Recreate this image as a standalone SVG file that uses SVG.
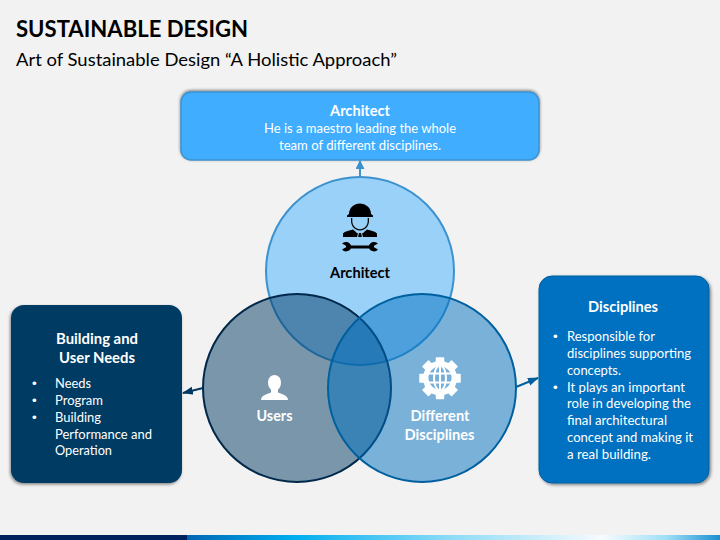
<svg xmlns="http://www.w3.org/2000/svg" width="720" height="540" viewBox="0 0 720 540">
<style>
text{font-family:"Lato","Open Sans","Liberation Sans",sans-serif}
.w{fill:#fff}.b{font-weight:700}.c{text-anchor:middle}
.t13{font-size:13.5px}.t14{font-size:14.5px}
.bu{font-family:"Liberation Sans",sans-serif}
</style>
<defs>
<linearGradient id="bar" x1="0" x2="1" y1="0" y2="0">
<stop offset="0" stop-color="#0066b3"/><stop offset=".2" stop-color="#00aeef"/><stop offset=".5" stop-color="#8fdcf7"/><stop offset=".78" stop-color="#f7fbfe"/><stop offset=".9" stop-color="#9fdff6"/><stop offset="1" stop-color="#1a8fd0"/>
</linearGradient>
<filter id="shT" x="-10%" y="-15%" width="120%" height="130%"><feDropShadow dx="0" dy="-1" stdDeviation="1.500" flood-color="#000" flood-opacity=".5"/></filter>
<filter id="shL" x="-10%" y="-10%" width="120%" height="120%"><feDropShadow dx="-1" dy="1.500" stdDeviation="1.500" flood-color="#000" flood-opacity=".45"/></filter>
<filter id="shR" x="-10%" y="-10%" width="120%" height="120%"><feDropShadow dx="1.500" dy="1.500" stdDeviation="1.500" flood-color="#000" flood-opacity=".45"/></filter>
<marker id="a1" markerWidth="10" markerHeight="10" refX="8" refY="4.500" orient="auto" markerUnits="userSpaceOnUse"><path d="M0 0L9 4.500L0 9Z" fill="#3c92ce"/></marker>
<marker id="a2" markerWidth="12" markerHeight="10" refX="10" refY="4" orient="auto" markerUnits="userSpaceOnUse"><path d="M0 0L11 4L0 8Z" fill="#003a63"/></marker>
<marker id="a3" markerWidth="12" markerHeight="10" refX="10" refY="4" orient="auto" markerUnits="userSpaceOnUse"><path d="M0 0L11 4L0 8Z" fill="#00609f"/></marker>
</defs>
<rect width="720" height="540" fill="#f2f2f2"/>
<rect x="0" y="535" width="187" height="5" fill="#002060"/>
<rect x="187" y="535" width="533" height="5" fill="url(#bar)"/>
<text x="16" y="37" font-size="23.500" font-weight="700" fill="#000" textLength="232" lengthAdjust="spacingAndGlyphs">SUSTAINABLE DESIGN</text>
<text x="16" y="66" font-size="18" fill="#000" textLength="381" lengthAdjust="spacingAndGlyphs">Art of Sustainable Design “A Holistic Approach”</text>

<g id="connectors" fill="none" stroke-width="2">
<path d="M360 177V161" stroke="#3c92ce" marker-end="url(#a1)"/>
<path d="M203 388L183 393" stroke="#003a63" marker-end="url(#a2)"/>
<path d="M516 387L538 378" stroke="#00609f" marker-end="url(#a3)"/>
</g>

<g id="box-architect">
<rect x="181" y="92" width="358" height="68" rx="10" fill="#41adff" stroke="#3c92ce" stroke-width="1.500" filter="url(#shT)"/>
<text class="w b c t14" x="360" y="116" textLength="60" lengthAdjust="spacingAndGlyphs">Architect</text>
<text class="w c t13" x="360" y="133" textLength="192" lengthAdjust="spacingAndGlyphs">He is a maestro leading the whole</text>
<text class="w c t13" x="360" y="150" textLength="162" lengthAdjust="spacingAndGlyphs">team of different disciplines.</text>
</g>

<g id="circle-architect">
<circle cx="360" cy="271" r="94" fill="#9ad1f9" stroke="#3c92ce" stroke-width="2"/>
</g>
<g id="circle-users">
<circle cx="297" cy="388" r="94" fill="#003a63" fill-opacity=".5" stroke="#00284a" stroke-width="2"/>
</g>
<g id="circle-disciplines">
<circle cx="422" cy="388" r="94" fill="#0070c0" fill-opacity=".5" stroke="#00609f" stroke-width="2"/>
</g>

<g id="label-architect">
<g fill="#000">
<path d="M349 214a11 10.500 0 0 1 22 0l2 1.500v1.500h-26v-1.500z"/>
<path d="M351 218v3c0 5 4 9.500 9 9.500s9-4.500 9-9.500v-3h-1.300v3c0 4.500-3.200 8.200-7.700 8.200s-7.700-3.700-7.700-8.200v-3z"/>
<path d="M343 237v-3c0-2 5-3 10-4.500l4 3.500 1 .5-1 3.500zM377 237v-3c0-2-5-3-10-4.500l-4 3.500-1 .5 1 3.500zM359 233h2l1 4h-4z"/>
<path d="M342 243.500a5.500 5.500 0 0 1 9 2h18a5.500 5.500 0 0 1 9-2l-4 2.200v1.600l4 2.200a5.500 5.500 0 0 1-9-1h-18a5.500 5.500 0 0 1-9 1l4-2.200v-1.600z"/>
</g>
<text class="b c t14" x="360" y="278" fill="#000" textLength="60" lengthAdjust="spacingAndGlyphs">Architect</text>
</g>

<g id="label-users">
<path fill="#fff" d="M261 400c0-5 7-6 10-7.500v-3c-2-1.500-3-4-3-7.500a6.500 7 0 0 1 13 0c0 3.500-1 6-3 7.500v3c3 1.500 10 2.500 10 7.500z"/>
<text class="w b c t14" x="274.500" y="421" textLength="36" lengthAdjust="spacingAndGlyphs">Users</text>
</g>

<g id="label-disciplines">
<path fill="#fff" stroke="#fff" stroke-width="1.500" stroke-linejoin="round" d="M436.500 358h7v4l5 2 3-3 5.500 5.500-3 3 2 5h4v7.500h-4l-2 5 3 3-5.500 5.500-3-3-5 2v4h-7v-4l-5-2-3 3-5.500-5.500 3-3-2-5h-4v-7.500h4l2-5-3-3 5.500-5.500 3 3 5-2z"/>
<circle cx="440" cy="378" r="12.500" fill="#78afd8"/>
<g fill="none" stroke="#fff" stroke-width="2">
<circle cx="440" cy="378" r="12.500"/><ellipse cx="440" cy="378" rx="6" ry="12.500"/>
<path d="M440 365.500v25M428.500 373.500h23M428.500 382.500h23"/>
</g>
<text class="w b c t14" x="440" y="421" textLength="59" lengthAdjust="spacingAndGlyphs">Different</text>
<text class="w b c t14" x="439.500" y="440" textLength="70" lengthAdjust="spacingAndGlyphs">Disciplines</text>
</g>

<g id="box-needs">
<rect x="11" y="305" width="171" height="178" rx="13" fill="#003a63" filter="url(#shL)"/>
<text class="w b c t14" x="97" y="344" textLength="82" lengthAdjust="spacingAndGlyphs">Building and</text>
<text class="w b c t14" x="97" y="363" textLength="76" lengthAdjust="spacingAndGlyphs">User Needs</text>
<g class="w t13">
<text class="bu" x="32" y="388">•</text><text x="55" y="388" textLength="36" lengthAdjust="spacingAndGlyphs">Needs</text>
<text class="bu" x="32" y="405">•</text><text x="55" y="405" textLength="48" lengthAdjust="spacingAndGlyphs">Program</text>
<text class="bu" x="32" y="422">•</text><text x="55" y="422" textLength="46" lengthAdjust="spacingAndGlyphs">Building</text>
<text x="55" y="439" textLength="97" lengthAdjust="spacingAndGlyphs">Performance and</text>
<text x="55" y="455" textLength="57" lengthAdjust="spacingAndGlyphs">Operation</text>
</g>
</g>

<g id="box-disciplines">
<rect x="539" y="276" width="170" height="207" rx="13" fill="#0070c0" stroke="#00609f" stroke-width="1" filter="url(#shR)"/>
<text class="w b c t14" x="623" y="312" textLength="70" lengthAdjust="spacingAndGlyphs">Disciplines</text>
<g class="w t13">
<text class="bu" x="553" y="341">•</text><text x="567" y="341" textLength="88" lengthAdjust="spacingAndGlyphs">Responsible for</text>
<text x="567" y="358" textLength="124" lengthAdjust="spacingAndGlyphs">disciplines supporting</text>
<text x="567" y="375" textLength="54" lengthAdjust="spacingAndGlyphs">concepts.</text>
<text class="bu" x="553" y="392">•</text><text x="567" y="392" textLength="118" lengthAdjust="spacingAndGlyphs">It plays an important</text>
<text x="567" y="408" textLength="124" lengthAdjust="spacingAndGlyphs">role in developing the</text>
<text x="567" y="425" textLength="100" lengthAdjust="spacingAndGlyphs">final architectural</text>
<text x="567" y="442" textLength="126" lengthAdjust="spacingAndGlyphs">concept and making it</text>
<text x="567" y="459" textLength="84" lengthAdjust="spacingAndGlyphs">a real building.</text>
</g>
</g>
</svg>
